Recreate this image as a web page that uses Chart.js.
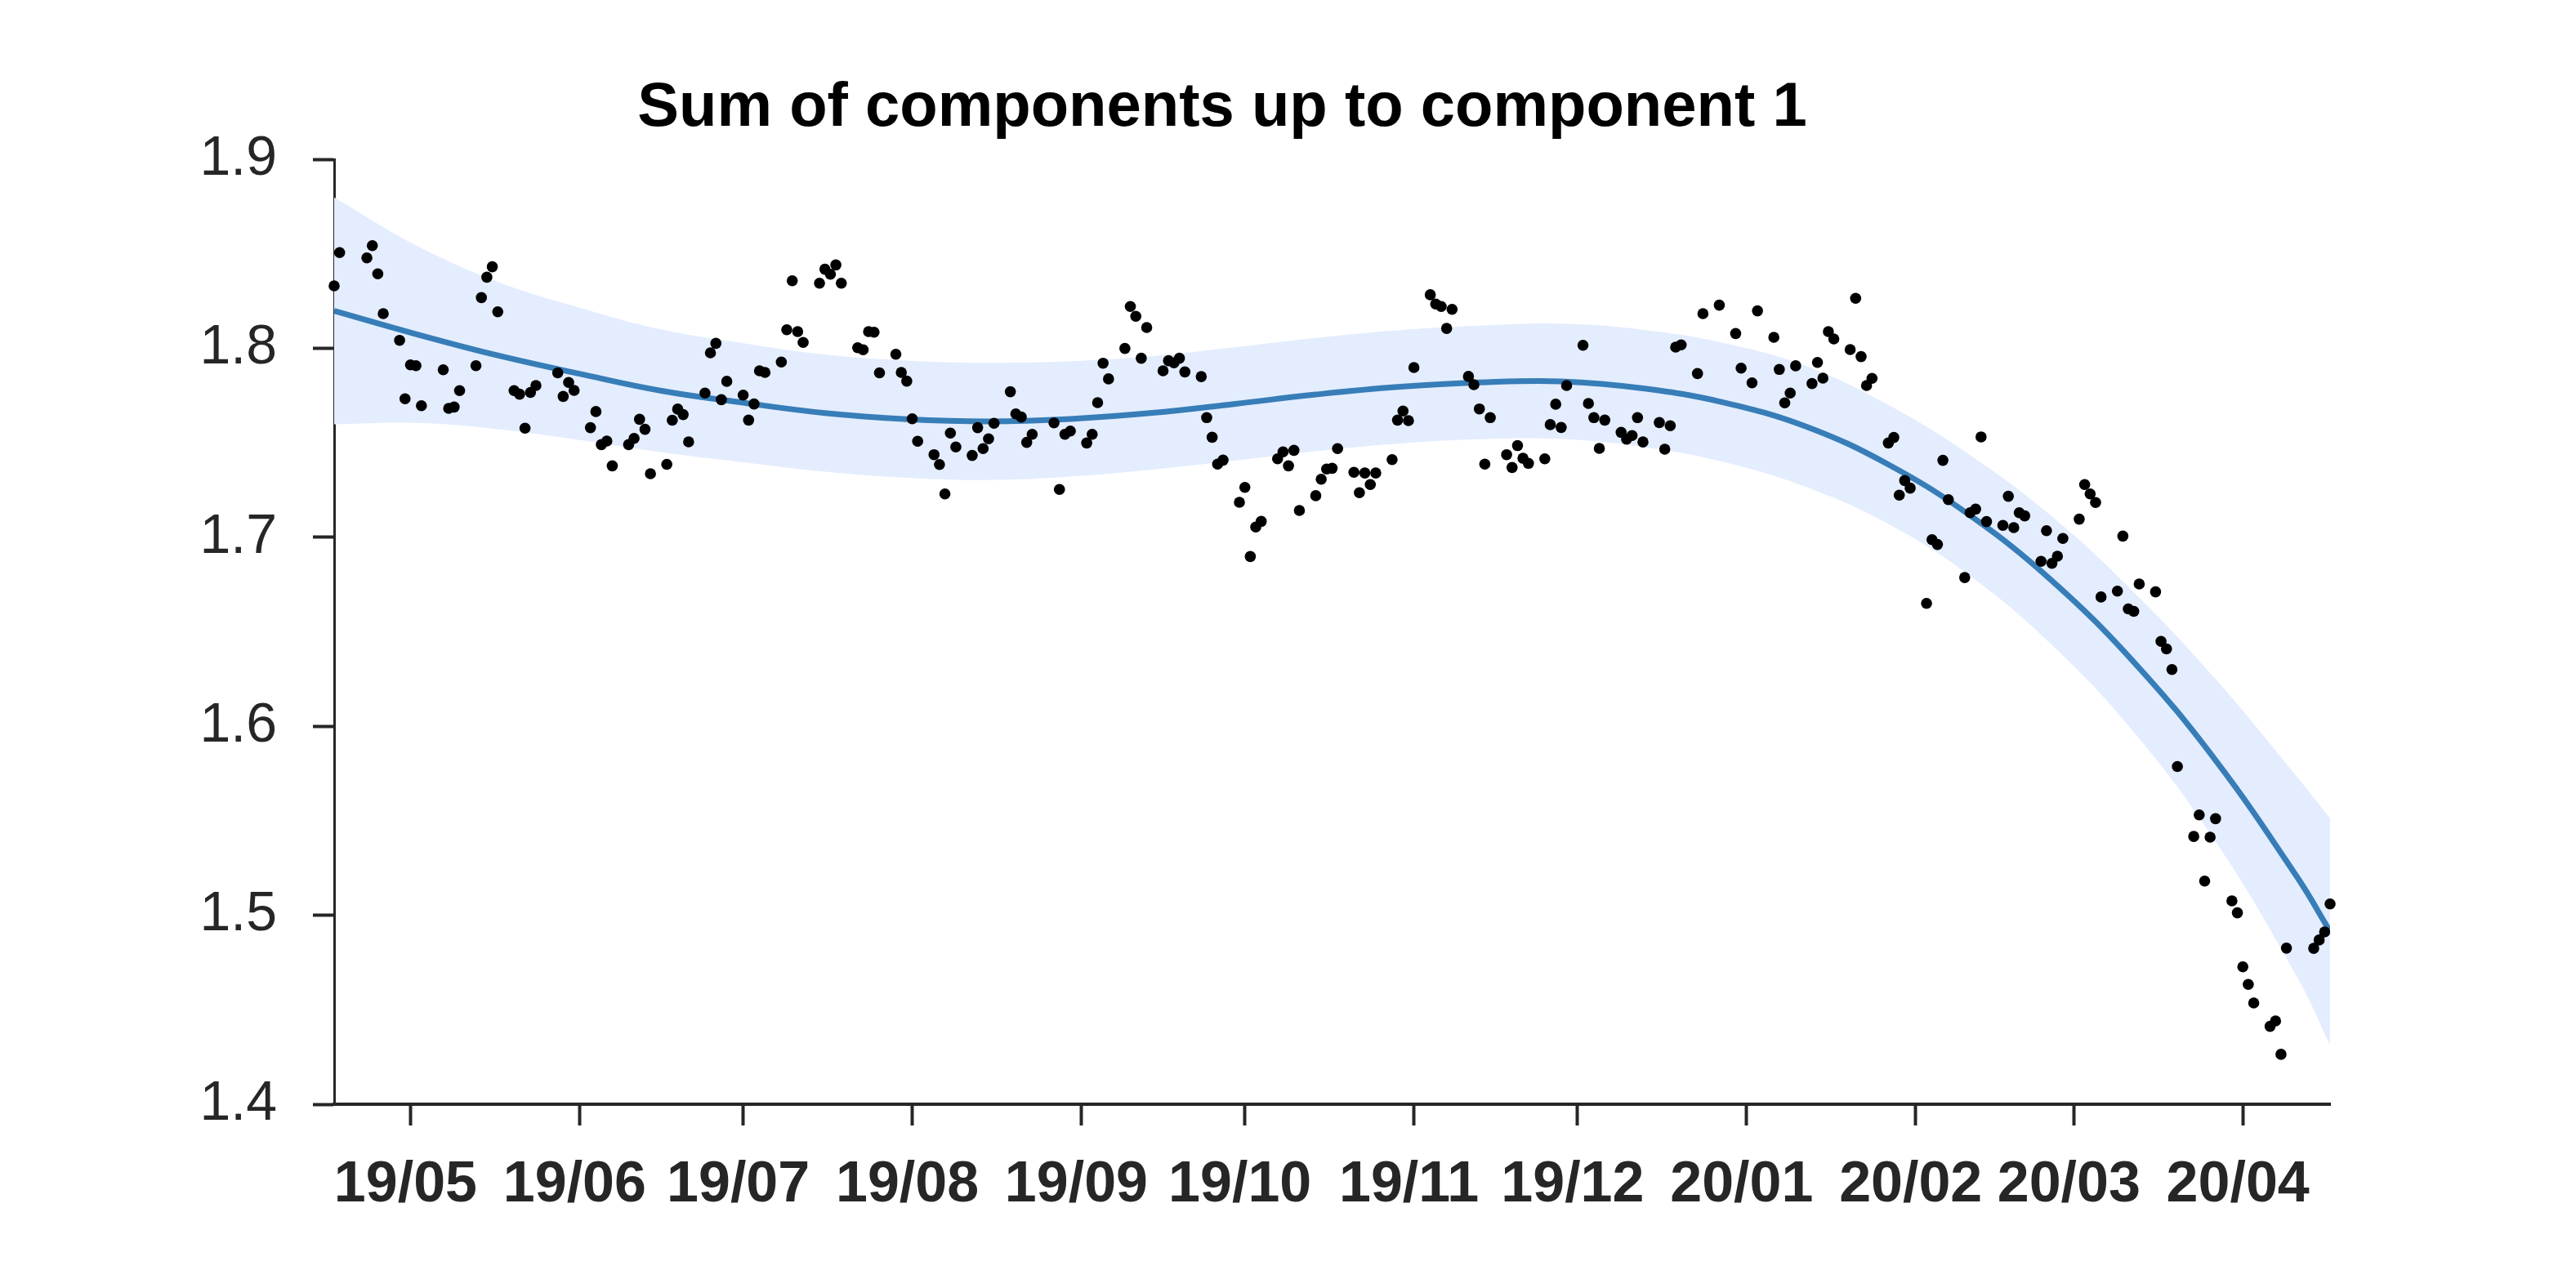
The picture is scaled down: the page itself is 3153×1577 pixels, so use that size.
<!DOCTYPE html>
<html>
<head>
<meta charset="utf-8">
<script src="https://cdn.jsdelivr.net/npm/chart.js@4.4.1/dist/chart.umd.min.js"></script>
<style>
  html, body { margin: 0; padding: 0; background: #fff; }
  #wrap { width: 3153px; height: 1577px; position: relative; }
</style>
</head>
<body>
<div id="wrap"><canvas id="chart"></canvas></div>
<script>
// x = days since 2019-04-17 (first observation)
const startDate = Date.UTC(2019, 3, 17);
const titleText = 'Sum of components up to component 1';

const tickLabels = ['19/05', '19/06', '19/07', '19/08', '19/09', '19/10',
                    '19/11', '19/12', '20/01', '20/02', '20/03', '20/04'];

const dotDays = [0,1,6,7,8,9,12,13,14,15,16,20,21,22,23,26,27,28,29,30,33,34,35,36,37,
  41,42,43,44,47,48,49,50,51,54,55,56,57,58,61,62,63,64,65,68,69,70,71,72,75,76,77,78,79,
  82,83,84,85,86,89,90,91,92,93,96,97,98,99,100,103,104,105,106,107,110,111,112,113,114,
  117,118,119,120,121,124,125,126,127,128,132,133,134,135,138,139,140,141,142,145,146,147,148,149,
  152,153,154,155,156,159,160,161,162,163,166,167,168,169,170,173,174,175,176,177,
  180,181,182,183,184,187,188,189,190,191,194,195,196,197,198,201,202,203,204,205,
  208,209,210,211,212,215,216,217,218,219,222,223,224,225,226,229,230,231,232,233,
  236,237,238,239,240,243,244,245,246,247,250,251,254,257,258,260,261,264,265,266,267,268,
  271,272,273,274,275,278,279,280,281,282,285,286,287,288,289,292,293,294,295,296,
  299,300,301,302,303,306,307,308,309,310,313,314,315,316,317,320,321,322,323,324,
  327,328,329,330,331,334,335,336,337,338,341,342,343,344,345,348,349,350,351,352,
  355,356,357,358,363,364,365,366];

const dotValues = [1.8330,1.8506,1.8478,1.8543,1.8394,1.8183,1.8042,1.7733,1.7912,1.7908,1.7696,
  1.7886,1.7682,1.7689,1.7776,1.7908,1.8268,1.8376,1.8431,1.8193,1.7776,1.7757,1.7577,1.7766,1.7803,
  1.7870,1.7745,1.7819,1.7777,1.7580,1.7665,1.7490,1.7509,1.7378,1.7490,1.7523,1.7624,1.7571,1.7336,
  1.7386,1.7619,1.7678,1.7649,1.7505,1.7763,1.7976,1.8026,1.7728,1.7825,1.7752,1.7620,1.7705,1.7881,1.7872,
  1.7927,1.8098,1.8357,1.8088,1.8031,1.8344,1.8418,1.8392,1.8441,1.8344,1.8003,1.7992,1.8088,1.8085,1.7870,
  1.7968,1.7872,1.7826,1.7627,1.7508,1.7437,1.7385,1.7229,1.7551,1.7478,
  1.7433,1.7580,1.7469,1.7521,1.7603,1.7770,1.7653,1.7636,1.7502,1.7545,1.7605,1.7253,1.7545,1.7562,
  1.7499,1.7545,1.7712,1.7921,1.7838,1.7999,1.8221,1.8169,1.7947,1.8110,
  1.7881,1.7934,1.7923,1.7947,1.7875,1.7850,1.7633,1.7529,1.7387,1.7408,1.7185,1.7264,1.6898,1.7054,1.7084,
  1.7415,1.7452,1.7378,1.7460,1.7142,
  1.7220,1.7307,1.7361,1.7365,1.7469,1.7344,1.7236,1.7340,1.7279,1.7340,1.7411,1.7620,1.7668,1.7617,1.7898,
  1.8283,1.8234,1.8221,1.8105,1.8206,
  1.7851,1.7807,1.7679,1.7387,1.7633,1.7437,1.7369,1.7485,1.7418,1.7391,1.7415,1.7596,1.7704,1.7581,1.7803,
  1.8016,1.7708,1.7633,1.7470,1.7620,
  1.7555,1.7519,1.7538,1.7633,1.7504,1.7607,1.7466,1.7590,1.8006,1.8018,1.7866,1.8183,1.8228,1.8078,1.7895,
  1.7817,1.8198,1.8058,1.7888,1.7711,1.7763,1.7907,
  1.7813,1.7925,1.7842,1.8088,1.8049,1.7993,1.8264,1.7956,1.7803,1.7841,1.7499,1.7528,1.7223,1.7300,1.7260,
  1.6650,1.6987,1.6962,1.7407,1.7199,
  1.6787,1.7130,1.7149,1.7531,1.7083,1.7063,1.7217,1.7051,1.7130,1.7113,1.6873,1.7035,1.6862,1.6900,1.6994,
  1.7096,1.7279,1.7229,1.7184,1.6684,
  1.6715,1.7006,1.6621,1.6608,1.6753,1.6711,1.6449,1.6409,1.6300,1.5787,1.5417,1.5531,1.5181,1.5413,1.5511,
  1.5076,1.5013,1.4727,1.4634,1.4536,
  1.4412,1.4441,1.4264,1.4826,1.4825,1.4869,1.4912,1.5060];

// fitted curve and its band, read every 15 days
const fitDays  = [0, 15, 30, 45, 60, 75, 90, 105, 120, 135, 150, 165, 180,
                  195, 210, 225, 240, 255, 270, 285, 300, 315, 330, 345, 360, 366];
const fitMid   = [1.8198, 1.8075, 1.7962, 1.7865, 1.7775, 1.7712, 1.7657, 1.7625, 1.7613, 1.7626, 1.7658, 1.7705, 1.7755,
                  1.7795, 1.7819, 1.7825, 1.7788, 1.7712, 1.7585, 1.7385, 1.7115, 1.6770, 1.6340, 1.5820, 1.5200, 1.4914];
const fitUpper = [1.8798, 1.8545, 1.8352, 1.8215, 1.8100, 1.8027, 1.7967, 1.7935, 1.7923, 1.7931, 1.7958, 1.8005, 1.8055,
                  1.8095, 1.8119, 1.8130, 1.8098, 1.8027, 1.7905, 1.7700, 1.7435, 1.7110, 1.6710, 1.6250, 1.5730, 1.5514];
const fitLower = [1.7598, 1.7605, 1.7572, 1.7515, 1.7450, 1.7397, 1.7347, 1.7315, 1.7303, 1.7321, 1.7358, 1.7405, 1.7455,
                  1.7495, 1.7519, 1.7520, 1.7478, 1.7397, 1.7265, 1.7070, 1.6795, 1.6430, 1.5970, 1.5390, 1.4670, 1.4314];

const tickDays = tickLabels.map(l => {
    const yy = 2000 + parseInt(l.slice(0, 2), 10);
    const mm = parseInt(l.slice(3), 10) - 1;
    return Math.round((Date.UTC(yy, mm, 1) - startDate) / 86400000);
});

const toPoints = (xs, ys) => xs.map((x, i) => ({ x: x, y: ys[i] }));

const ink = '#262626';

const titlePlugin = {
    id: 'plotTitle',
    afterDraw(chart) {
        const c = chart.ctx;
        c.save();
        c.font = 'bold 76px "Liberation Sans", Arial, sans-serif';
        c.fillStyle = '#000';
        c.textAlign = 'center';
        c.textBaseline = 'alphabetic';
        c.fillText(titleText, 1496, 154);
        c.restore();
    }
};

new Chart(document.getElementById('chart'), {
    type: 'scatter',
    data: {
        datasets: [
            {
                label: 'data',
                data: toPoints(dotDays, dotValues),
                pointRadius: 6.8,
                pointBackgroundColor: '#000',
                pointBorderWidth: 0,
                clip: false,
                order: 0
            },
            {
                label: 'fit',
                data: toPoints(fitDays, fitMid),
                showLine: true,
                borderColor: '#377db8',
                borderWidth: 7,
                pointRadius: 0,
                tension: 0.4,
                order: 1
            },
            {
                label: 'upper',
                data: toPoints(fitDays, fitUpper),
                showLine: true,
                borderWidth: 0,
                borderColor: 'rgba(0,0,0,0)',
                backgroundColor: '#e4edfd',
                pointRadius: 0,
                tension: 0.4,
                fill: '+1',
                order: 2
            },
            {
                label: 'lower',
                data: toPoints(fitDays, fitLower),
                showLine: true,
                borderWidth: 0,
                borderColor: 'rgba(0,0,0,0)',
                pointRadius: 0,
                tension: 0.4,
                fill: false,
                order: 3
            }
        ]
    },
    options: {
        responsive: true,
        maintainAspectRatio: false,
        animation: false,
        devicePixelRatio: 1,
        layout: { padding: { top: 195, right: 301, bottom: 0, left: 0 } },
        plugins: {
            legend: { display: false },
            tooltip: { enabled: false },
            title: { display: false }
        },
        scales: {
            x: {
                type: 'linear',
                min: 0,
                max: 366,
                afterBuildTicks: scale => {
                    scale.ticks = tickDays.map(v => ({ value: v }));
                },
                afterFit: scale => { scale.height = 225; },
                grid: {
                    drawOnChartArea: false,
                    drawTicks: true,
                    tickLength: 26,
                    tickWidth: 4,
                    tickColor: ink
                },
                border: { display: true, width: 4, color: ink },
                ticks: {
                    autoSkip: false,
                    maxRotation: 0,
                    padding: 32,
                    labelOffset: -6,
                    color: ink,
                    font: { family: '"Liberation Sans", Arial, sans-serif', size: 70, weight: 'bold' },
                    callback: value => {
                        const i = tickDays.indexOf(value);
                        return i >= 0 ? tickLabels[i] : '';
                    }
                }
            },
            y: {
                min: 1.4,
                max: 1.9,
                afterFit: scale => { scale.width = 409; },
                grid: {
                    drawOnChartArea: false,
                    drawTicks: true,
                    tickLength: 26,
                    tickWidth: 4,
                    tickColor: ink
                },
                border: { display: true, width: 3, color: ink },
                ticks: {
                    stepSize: 0.1,
                    padding: 44,
                    color: ink,
                    font: { family: '"Liberation Sans", Arial, sans-serif', size: 68 },
                    callback: value => value.toFixed(1)
                }
            }
        }
    },
    plugins: [titlePlugin]
});
</script>
</body>
</html>
